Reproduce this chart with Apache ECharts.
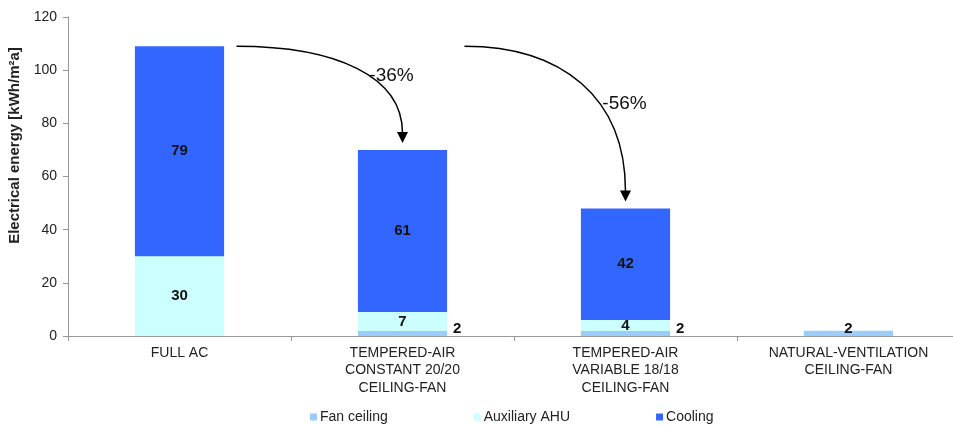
<!DOCTYPE html>
<html>
<head>
<meta charset="utf-8">
<script src="https://cdn.jsdelivr.net/npm/echarts@6/dist/echarts.min.js"></script>
<style>
  html, body { margin: 0; padding: 0; background: #fff; }
  #chart { width: 953px; height: 426px; }
</style>
</head>
<body>
<div id="chart"></div>
<script>
// Scenario names shown on the category axis
const categories = [
  'FULL AC',
  'TEMPERED-AIR\nCONSTANT 20/20\nCEILING-FAN',
  'TEMPERED-AIR\nVARIABLE 18/18\nCEILING-FAN',
  'NATURAL-VENTILATION\nCEILING-FAN'
];
// Electrical energy per end use [kWh/m²a]
const fanCeiling = [0, 2, 2, 2];
const auxiliaryAHU = [30, 7, 4, 0];
const cooling = [79, 61, 42, 0];
// Savings relative to the full AC case
const savings = ['-36%', '-56%'];
const yTicks = [0, 20, 40, 60, 80, 100, 120];

const FONT = '"Liberation Sans", Arial, sans-serif';
const chart = echarts.init(document.getElementById('chart'));

const valueLabel = {
  show: true,
  position: 'inside',
  fontFamily: FONT,
  fontSize: 15,
  fontWeight: 'bold',
  color: '#111',
  formatter: p => (p.value ? String(p.value) : '')
};

// Fan ceiling labels sit beside the thin bar, except where it stands alone
const fanData = fanCeiling.map((v, i) => {
  const alone = auxiliaryAHU[i] === 0 && cooling[i] === 0;
  return {
    value: v,
    label: alone
      ? { position: 'inside', offset: [0, -4] }
      : { position: 'right', distance: 6, offset: [0, -4] }
  };
});

chart.setOption({
  animation: false,
  backgroundColor: '#fff',
  textStyle: { fontFamily: FONT },
  // the plot runs slightly past the right edge of the canvas
  grid: { left: 68, width: 892, top: 17, bottom: 90, outerBoundsMode: 'none', containLabel: false },
  legend: {
    top: 405,
    left: 305,
    itemWidth: 7,
    itemHeight: 7,
    itemGap: 86,
    icon: 'rect',
    textStyle: { fontFamily: FONT, fontSize: 14, color: '#222', padding: [0, 0, 0, -2] },
    data: ['Fan ceiling', 'Auxiliary AHU', 'Cooling']
  },
  xAxis: {
    type: 'category',
    data: categories,
    axisLine: { lineStyle: { color: '#999', width: 1 } },
    axisTick: { show: true, length: 5, lineStyle: { color: '#999' } },
    axisLabel: {
      fontFamily: FONT, fontSize: 14, color: '#222',
      lineHeight: 17.5, margin: 8, interval: 0
    }
  },
  yAxis: {
    type: 'value',
    min: yTicks[0],
    max: yTicks[yTicks.length - 1],
    interval: 20,
    name: 'Electrical energy [kWh/m²a]',
    nameLocation: 'middle',
    nameGap: 41,
    nameTextStyle: {
      fontFamily: FONT, fontSize: 15, fontWeight: 'bold', color: '#222',
      // lift the title above the axis midpoint
      padding: [0, 0, 0, 62]
    },
    axisLine: { show: true, lineStyle: { color: '#999' } },
    axisTick: { show: true, length: 5, lineStyle: { color: '#999' } },
    axisLabel: { fontFamily: FONT, fontSize: 14, color: '#222', margin: 11 },
    splitLine: { show: false }
  },
  series: [
    {
      name: 'Fan ceiling', type: 'bar', stack: 'e', barWidth: '40%',
      itemStyle: { color: '#99CCFF' },
      label: valueLabel,
      data: fanData
    },
    {
      name: 'Auxiliary AHU', type: 'bar', stack: 'e',
      itemStyle: { color: '#CCFFFF' },
      label: valueLabel,
      data: auxiliaryAHU
    },
    {
      name: 'Cooling', type: 'bar', stack: 'e',
      itemStyle: { color: '#3366FF' },
      label: valueLabel,
      data: cooling
    }
  ]
});

// Curved arrows from the full AC total down onto the reduced scenarios
function drawArrows() {
  const total = i => fanCeiling[i] + auxiliaryAHU[i] + cooling[i];
  const px = (c, v) => chart.convertToPixel({ gridIndex: 0 }, [c, v]);
  const elements = [];
  const arrows = [
    { from: 0, to: 1, dx: 57, text: savings[0], tdx: -11, tdy: 30 },
    { from: 1, to: 2, dx: 62, text: savings[1], tdx: -1, tdy: 58 }
  ];
  arrows.forEach(a => {
    const start = px(a.from, total(0));
    const end = px(a.to, total(a.to));
    const x1 = px(a.from, 0)[0] + a.dx;
    const y1 = start[1];
    const x2 = end[0];
    const tipY = end[1] - 7;
    const baseY = tipY - 11;
    elements.push({
      type: 'bezierCurve',
      shape: {
        x1: x1, y1: y1,
        cpx1: x1 + (x2 - x1) * 0.6, cpy1: y1,
        cpx2: x2, cpy2: y1 + (baseY - y1) * 0.35,
        x2: x2, y2: baseY + 1
      },
      style: { stroke: '#000', lineWidth: 1.5, fill: null }
    });
    elements.push({
      type: 'polygon',
      shape: { points: [[x2 - 5.5, baseY], [x2 + 5.5, baseY], [x2, tipY]] },
      style: { fill: '#000' }
    });
    elements.push({
      type: 'text',
      x: x2 + a.tdx, y: y1 + a.tdy,
      style: {
        text: a.text, fontFamily: FONT, fontSize: 19, fill: '#111',
        align: 'center', verticalAlign: 'middle'
      }
    });
  });
  chart.setOption({ graphic: { elements: elements } });
}
drawArrows();
</script>
</body>
</html>
